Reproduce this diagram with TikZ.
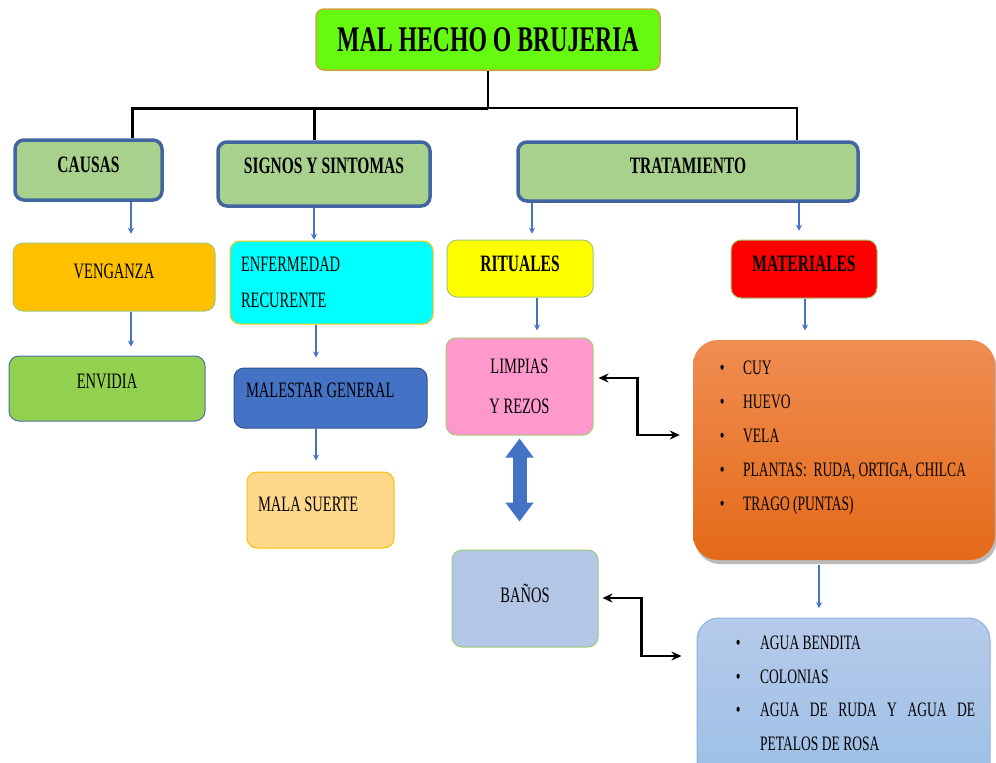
\documentclass[tikz,border=0pt]{standalone}
\usepackage{fontspec}
\setmainfont{Liberation Serif}[FakeStretch=0.66]
\usetikzlibrary{arrows.meta,shadows}
\definecolor{hdrfill}{RGB}{169,209,142}
\definecolor{hdrline}{RGB}{65,101,160}
\definecolor{titlefill}{RGB}{102,250,17}
\definecolor{titleline}{RGB}{205,165,60}
\definecolor{arrowblue}{RGB}{68,114,196}
\definecolor{softgreen}{RGB}{160,200,120}
\definecolor{goldline}{RGB}{255,192,0}
\definecolor{vengfill}{RGB}{255,192,0}
\definecolor{envfill}{RGB}{146,208,80}
\definecolor{envline}{RGB}{76,111,166}
\definecolor{enffill}{RGB}{0,255,255}
\definecolor{ritfill}{RGB}{255,255,0}
\definecolor{matfill}{RGB}{255,0,0}
\definecolor{malfill}{RGB}{68,114,196}
\definecolor{malline}{RGB}{47,82,143}
\definecolor{suertefill}{RGB}{255,216,140}
\definecolor{limpfill}{RGB}{255,153,204}
\definecolor{banofill}{RGB}{180,199,231}
\definecolor{orangetop}{RGB}{240,141,82}
\definecolor{orangebot}{RGB}{228,106,24}
\definecolor{bluetop}{RGB}{182,202,234}
\definecolor{bluebot}{RGB}{155,191,230}
\definecolor{blueline}{RGB}{140,176,222}
\newcommand\upby[2]{\raisebox{#1}[\height][\depth]{#2}}
\begin{document}
\begin{tikzpicture}[x=1pt,y=-1pt,
  sz/.style 2 args={minimum width=#1pt, minimum height=#2pt},
  hdr/.style={draw=hdrline, line width=3.5pt, fill=hdrfill, rounded corners=9pt, inner sep=0pt,
    font=\fontsize{23.5}{26}\selectfont\bfseries},
  box/.style={line width=1pt, rounded corners=10pt, inner sep=0pt,
    font=\fontsize{22}{26}\selectfont},
  boldbox/.style={box, font=\fontsize{23.5}{26}\selectfont\bfseries},
  trunk/.style={line width=3pt, black},
  trunkthin/.style={line width=2pt, black},
  barrow/.style={draw=arrowblue, line width=2pt, -{Stealth[length=6pt,width=6pt]}},
  dblarrow/.style={draw=arrowblue, line width=14pt,
    {Triangle[length=19pt,width=27pt]}-{Triangle[length=19pt,width=27pt]}},
  elbow/.style={line width=2.5pt, black,
    {Stealth[length=10pt,width=9pt]}-{Stealth[length=10pt,width=9pt]}},
  listtext/.style={anchor=base west, inner sep=0pt}
]
\useasboundingbox (0,0) rectangle (996,763);

% title
\node[draw=titleline, line width=1.5pt, fill=titlefill, rounded corners=8pt, inner sep=0pt,
  sz={344}{61}, font=\fontsize{36}{40}\selectfont\bfseries] (title) at (488,39.5) {MAL HECHO O BRUJERIA};

% headers
\node[hdr, sz={147}{60}] (causas) at (88.5,170) {\upby{5pt}{CAUSAS}};
\node[hdr, sz={212}{64}] (signos) at (324,174) {\upby{8pt}{SIGNOS Y SINTOMAS}};
\node[hdr, sz={340}{59}] (trat) at (688,171.5) {\upby{6pt}{TRATAMIENTO}};

% trunk lines
\coordinate (jn) at (title.south |- 0,108);
\draw[trunkthin] (title.south) -- (jn);
\draw[trunk] (jn) -| ([xshift=43.5pt]causas.north);
\draw[trunk] (jn) -| ([xshift=-10pt]signos.north);
\draw[trunkthin] (jn) -| ([xshift=109pt]trat.north);

% causas column
\node[box, fill=vengfill, draw=softgreen, sz={202}{68}] (venganza) at (114,277) {\upby{5.5pt}{VENGANZA}};
\node[box, fill=envfill, draw=envline, sz={196}{65}] (envidia) at (107,388.5) {\upby{7pt}{ENVIDIA}};

% signos column
\node[box, fill=enffill, draw=goldline, sz={203}{83}, align=left, text width=181pt, inner xsep=11pt,
  font=\fontsize{22}{36}\selectfont] (enferm) at (331.5,282.5) {ENFERMEDAD\\RECURENTE};
\node[box, fill=malfill, draw=malline, sz={193}{60}, inner xsep=12pt] (malestar) at (330.5,398) {\upby{7.5pt}{\makebox[169pt][l]{MALESTAR GENERAL}}};
\node[box, fill=suertefill, draw=goldline, sz={147}{76}, inner xsep=11pt] (suerte) at (320.5,510) {\upby{5.5pt}{\makebox[125pt][l]{MALA SUERTE}}};

% tratamiento
\node[boldbox, fill=ritfill, draw=softgreen, sz={146}{57}] (rituales) at (520,268.5) {\upby{5pt}{RITUALES}};
\node[boldbox, fill=matfill, draw=softgreen, sz={146}{58}] (materiales) at (804,269) {\upby{5pt}{MATERIALES}};
\node[box, fill=limpfill, draw=softgreen, sz={147}{97}, align=center, font=\fontsize{22}{40}\selectfont] (limpias) at (519.5,386.5) {LIMPIAS\\Y REZOS};
\node[box, fill=banofill, draw=softgreen, sz={146}{97}] (banos) at (525,598.5) {\upby{5.5pt}{BAÑOS}};

\node[rounded corners=25pt, top color=orangetop, bottom color=orangebot, draw=none, sz={302}{220},
  drop shadow={shadow xshift=2pt, shadow yshift=-4pt, opacity=0.45, fill=black!60}] (orange) at (844,450) {};
\node[listtext, font=\fontsize{20.5}{34}\selectfont] (matlist) at (719.6,374.8) {%
  \begin{tabular}[t]{@{}l@{}}
  \makebox[23.4pt][l]{\textbullet}CUY\\
  \makebox[23.4pt][l]{\textbullet}HUEVO\\
  \makebox[23.4pt][l]{\textbullet}VELA\\
  \makebox[23.4pt][l]{\textbullet}PLANTAS:\ \ RUDA, ORTIGA, CHILCA\\
  \makebox[23.4pt][l]{\textbullet}TRAGO (PUNTAS)
  \end{tabular}};

\node[rounded corners=22pt, top color=bluetop, bottom color=bluebot, draw=blueline, line width=1pt,
  sz={293}{172}] (bluebox) at (843.5,704) {};
\node[listtext, font=\fontsize{20.5}{33.5}\selectfont] (banolist) at (735.6,649.8) {%
  \begin{tabular}[t]{@{}l@{}}
  \makebox[24.4pt][l]{\textbullet}AGUA BENDITA\\
  \makebox[24.4pt][l]{\textbullet}COLONIAS\\
  \makebox[24.4pt][l]{\textbullet}\hbox to 215pt{AGUA\hfill DE\hfill RUDA\hfill Y\hfill AGUA\hfill DE}\\
  \hspace*{24.4pt}PETALOS DE ROSA
  \end{tabular}};

% blue arrows
\draw[barrow] ([xshift=42.5pt]causas.south) -- ++(0,32);
\draw[barrow] ([xshift=17pt]venganza.south) -- ++(0,35);
\draw[barrow] ([xshift=-10pt]signos.south) -- ++(0,32);
\draw[barrow] ([xshift=-15.5pt]enferm.south) -- ++(0,33);
\draw[barrow] ([xshift=-14.5pt]malestar.south) -- ++(0,32);
\draw[barrow] ([xshift=-156pt]trat.south) -- ++(0,31);
\draw[barrow] ([xshift=111pt]trat.south) -- ++(0,28);
\draw[barrow] ([xshift=17pt]rituales.south) -- ++(0,33);
\draw[barrow] ([xshift=1pt]materiales.south) -- ++(0,32);
\draw[barrow] ([xshift=-25pt,yshift=-5pt]orange.south) -- ++(0,43);

% double arrow
\draw[dblarrow] ([yshift=-3pt]limpias.south) -- ([yshift=28pt]limpias.south |- banos.north);

% elbow arrows
\draw[elbow] ([xshift=5pt,yshift=8.5pt]limpias.east) -- ++(39,0) |- ([xshift=-13pt,yshift=15pt]orange.west);
\draw[elbow] ([xshift=4pt,yshift=0.5pt]banos.east) -- ++(39,0) |- ([xshift=-15pt,yshift=48pt]bluebox.west);
\end{tikzpicture}
\end{document}
